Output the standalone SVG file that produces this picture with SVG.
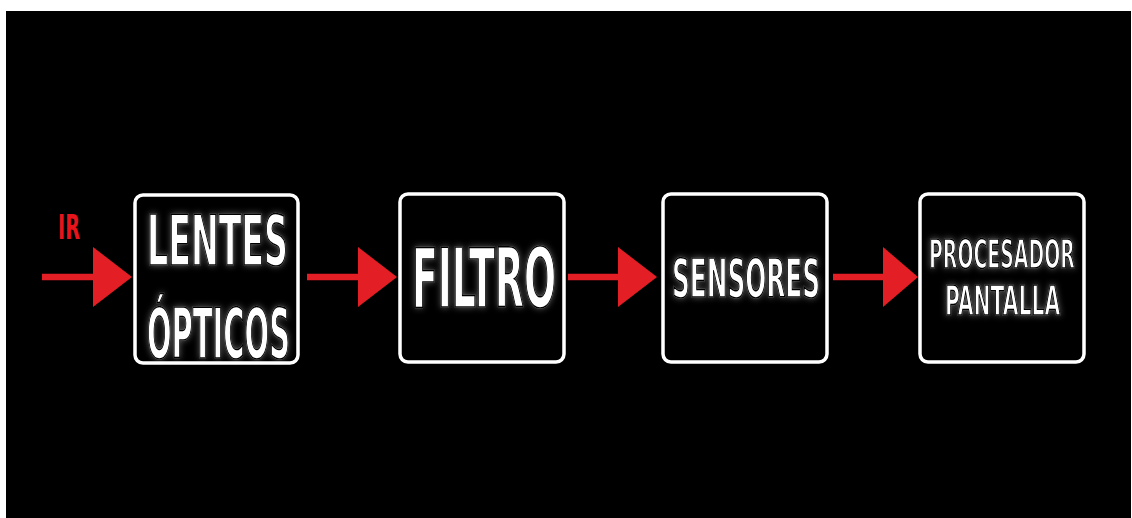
<svg xmlns="http://www.w3.org/2000/svg" width="1132" height="518" viewBox="0 0 1132 518">
<style>
.box{fill:#000;stroke:#fff;stroke-width:3.5}
.t{fill:#fff;stroke:#000;stroke-width:1.6;font-family:"DejaVu Sans Condensed","Liberation Sans Narrow","Liberation Sans",sans-serif;font-weight:bold;text-anchor:start}
.ir{fill:#e8141c;font-family:"DejaVu Sans Condensed","Liberation Sans Narrow","Liberation Sans",sans-serif;font-weight:bold}
.line{stroke:#e41e25;stroke-width:6.5;fill:none}
.head{fill:#e41e25}
</style>
<defs>
<filter id="glow" x="-20%" y="-40%" width="140%" height="180%">
<feGaussianBlur in="SourceAlpha" stdDeviation="3" result="b"/>
<feFlood flood-color="#fff" flood-opacity="0.35"/>
<feComposite in2="b" operator="in" result="g"/>
<feMerge><feMergeNode in="g"/><feMergeNode in="SourceGraphic"/></feMerge>
</filter>
</defs>
<rect x="0" y="0" width="1132" height="518" fill="#fff"/>
<rect x="6" y="11" width="1125" height="507" fill="#000"/>
<g id="connectors">
<g id="c0"><line class="line" x1="42" y1="277" x2="95" y2="277"/><polygon class="head" points="93,247 132,277 93,307"/></g>
<g id="c1"><line class="line" x1="307" y1="277" x2="360" y2="277"/><polygon class="head" points="358,247 397,277 358,307"/></g>
<g id="c2"><line class="line" x1="568" y1="277" x2="620" y2="277"/><polygon class="head" points="618,247 657,277 618,307"/></g>
<g id="c3"><line class="line" x1="833" y1="277" x2="885" y2="277"/><polygon class="head" points="883,247 918,277 883,307"/></g>
</g>
<text class="ir" x="58" y="239" font-size="34" textLength="22" lengthAdjust="spacingAndGlyphs">IR</text>
<g id="n1">
<rect class="box" x="135" y="195" width="163" height="168" rx="8"/>
<g filter="url(#glow)">
<text class="t" x="147" y="265" font-size="69" textLength="141" lengthAdjust="spacingAndGlyphs">LENTES</text>
<text class="t" x="147" y="358" font-size="69" textLength="143" lengthAdjust="spacingAndGlyphs">ÓPTICOS</text>
</g>
</g>
<g id="n2">
<rect class="box" x="400" y="194" width="164" height="168" rx="8"/>
<g filter="url(#glow)">
<text class="t" x="412" y="307" font-size="82" textLength="144" lengthAdjust="spacingAndGlyphs">FILTRO</text>
</g>
</g>
<g id="n3">
<rect class="box" x="663" y="194" width="164" height="168" rx="8"/>
<g filter="url(#glow)">
<text class="t" x="672" y="297" font-size="53" textLength="148" lengthAdjust="spacingAndGlyphs">SENSORES</text>
</g>
</g>
<g id="n4">
<rect class="box" x="920" y="194" width="164" height="168" rx="8"/>
<g filter="url(#glow)">
<text class="t" transform="translate(929,268) scale(0.6,1)" x="0" y="0" font-size="39" textLength="243" lengthAdjust="spacingAndGlyphs">PROCESADOR</text>
<text class="t" transform="translate(945,315) scale(0.6,1)" x="0" y="0" font-size="41" textLength="192" lengthAdjust="spacingAndGlyphs">PANTALLA</text>
</g>
</g>
</svg>
